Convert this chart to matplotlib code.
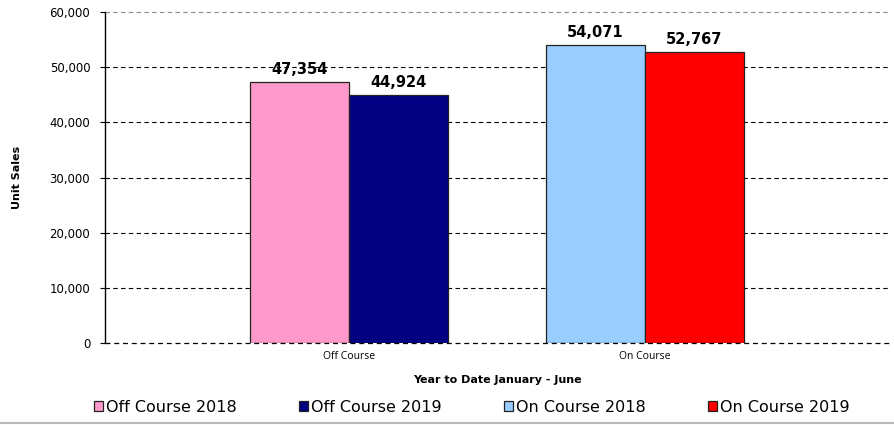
import matplotlib.pyplot as plt
from matplotlib.lines import Line2D
from matplotlib.ticker import FuncFormatter

categories = ['Off Course', 'On Course']
series_names = ['Off Course 2018', 'Off Course 2019', 'On Course 2018', 'On Course 2019']
values = [47354, 44924, 54071, 52767]
cat_index = [0, 0, 1, 1]
offsets = [-0.5, 0.5, -0.5, 0.5]
colors = ['#FF99CC', '#000080', '#99CCFF', '#FF0000']

plt.rcParams['font.family'] = ['DejaVu Sans']

fig = plt.figure(figsize=(8.94, 4.25), dpi=100)
ax = fig.add_axes([105/894, 82/425, 785/894, 331/425])

w = 0.334
for i in range(len(values)):
    x = cat_index[i] + offsets[i]*w
    ax.bar(x, values[i], width=w, color=colors[i], edgecolor='#222222',
           linewidth=0.9, label=series_names[i], zorder=3)
    ax.annotate(f'{values[i]:,}', (x, values[i]), xytext=(0, 3.5),
                textcoords='offset points', ha='center', va='bottom',
                fontsize=10.5, fontweight='bold')

ax.set_xlim(-0.825, 1.828)
ax.set_ylim(0, 60000)
ax.set_yticks(range(0, 60001, 10000))
ax.yaxis.set_major_formatter(FuncFormatter(lambda v, p: f'{int(v):,}'))
ax.tick_params(axis='y', labelsize=8.5, length=3.6, width=0.8, pad=7)
ax.set_xticks([0, 1])
ax.set_xticklabels(categories, fontsize=7.5, family=['Open Sans', 'DejaVu Sans'])
ax.tick_params(axis='x', length=0, pad=6)

for y in range(10000, 60001, 10000):
    ax.axhline(y, color='#888888' if y == 60000 else 'black', linestyle=(0, (4, 3)),
               linewidth=0.8, zorder=1, clip_on=False)
ax.axhline(0, color='black', linestyle=(0, (4, 3)), linewidth=0.9, zorder=4, clip_on=False)

for s in ['top', 'right', 'bottom']:
    ax.spines[s].set_visible(False)
ax.spines['left'].set_linewidth(1)

ax.set_ylabel('Unit Sales', fontsize=8, fontweight='bold', labelpad=20)
ax.set_xlabel('Year to Date January - June', fontsize=8, fontweight='bold', labelpad=9)

handles, labels = ax.get_legend_handles_labels()
fig.legend(handles, labels, loc='center', bbox_to_anchor=(472/894, 1 - 407/425),
           ncol=4, frameon=False, fontsize=11.5, handlelength=0.55, handleheight=0.55,
           handletextpad=0.2, columnspacing=3.9)

fig.add_artist(Line2D([0, 1], [1 - 423/425]*2, color='#bbbbbb', linewidth=1.5,
                      transform=fig.transFigure))

fig.savefig('out.png', dpi=100)
